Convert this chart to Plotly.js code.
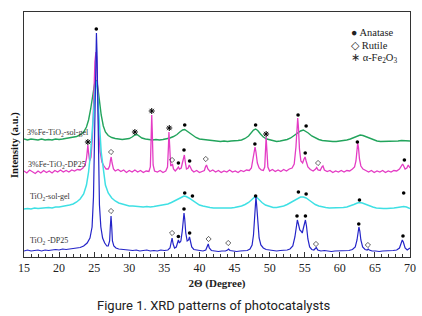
<!DOCTYPE html>
<html><head><meta charset="utf-8">
<script src="https://cdn.plot.ly/plotly-3.0.1.min.js"></script>
<style>html,body{margin:0;padding:0;background:#fff}#chart{width:422px;height:316px}</style>
</head><body><div id="chart"></div>
<script>
// ---- TiO2-DP25 (blue)
const dp25X = [15,15.5,16,16.5,17,17.5,18,18.5,19,19.5,20,20.5,21,21.5,22,22.5,23,23.5,24,24.4,24.7,24.9,25.05,25.15,25.25,25.32,25.4,25.5,25.6,25.75,25.95,26.2,26.5,26.8,27.0,27.2,27.3,27.4,27.5,27.6,27.8,28.1,28.5,29,29.5,30,30.5,31,31.5,32,32.5,33,33.5,34,34.5,35,35.5,35.8,36.0,36.1,36.25,36.45,36.7,36.9,37.0,37.15,37.35,37.55,37.7,37.8,37.9,38.05,38.25,38.45,38.58,38.7,38.9,39.2,39.6,40,40.5,40.9,41.1,41.25,41.4,41.7,42.2,42.7,43.2,43.7,44.0,44.15,44.35,44.8,45.3,45.8,46.3,46.8,47.2,47.5,47.7,47.85,47.95,48.05,48.15,48.3,48.5,48.75,49.1,49.5,50,50.5,51,51.5,52,52.5,52.9,53.3,53.6,53.8,53.95,54.1,54.3,54.45,54.65,54.85,55.0,55.1,55.25,55.45,55.7,56.0,56.3,56.55,56.65,56.85,57.3,57.8,58.3,58.8,59.3,59.8,60.3,60.8,61.3,61.8,62.2,62.45,62.6,62.72,62.85,63.0,63.25,63.6,63.9,64.05,64.2,64.6,65.1,65.6,66.1,66.6,67.1,67.6,68.1,68.5,68.75,68.9,69.05,69.3,69.6,69.85,70];
const dp25Y = [6,7,6,6.5,7,6,7,6.5,7,7.5,7,8,7.5,8,8,9,9.5,11,14,19,30,60,120,185,222,224,205,150,95,52,30,19,14,11,11,16,30,41,30,16,11,9,8,7.5,7,7,6.5,7,6,6.5,7,6,6.5,6,7,6.5,7,9,15,19,13,9,10,15,17,14,16,26,40,44,38,24,16,17,20,15,10,7.5,7,6.5,6,7,10,13,9,6.5,6,5.5,6,6,7,8,6.5,6,5.5,6,6,6.5,8,12,22,42,58,60,52,34,19,12,9,7.5,7,6.5,6,6.5,6.5,7,8,11,20,33,37,33,27,26,24,30,36,37,31,18,10,7.5,7,9,9.5,7,6,6.5,6,5.5,6,6,6.5,6,6.5,7.5,10,17,26,30,26,17,10,7.5,7,8,7,6,6,5.5,6,6,6,6.5,7,9,14,17,15,9,7,8.5,9];

// ---- TiO2-sol-gel (cyan)
const solX = [15,15.5,16,16.5,17,17.5,18,18.5,19,19.5,20,20.5,21,21.5,22,22.5,23,23.5,23.9,24.2,24.5,24.75,24.95,25.1,25.25,25.4,25.55,25.75,26.0,26.3,26.6,27,27.5,28,28.5,29,29.5,30,30.5,31,31.5,32,32.5,33,33.5,34,34.5,35,35.5,36,36.5,37,37.4,37.8,38.1,38.5,38.9,39.4,40,40.5,41,41.5,42,42.5,43,43.5,44,44.5,45,45.5,46,46.5,47,47.4,47.7,47.95,48.2,48.5,48.9,49.4,50,50.5,51,51.5,52,52.5,53,53.5,54,54.4,54.8,55.2,55.6,56,56.5,57,57.5,58,58.5,59,59.5,60,60.5,61,61.5,62,62.5,62.8,63.2,63.7,64.2,64.7,65.2,65.7,66.2,66.7,67.2,67.7,68.2,68.7,69.1,69.5,70];
const solY = [48,48.5,48,49,48.5,49,49,49.5,49,50,50,50.5,51,52,53,55,58,63,72,85,105,130,155,170,176,172,158,133,105,85,72,64,59,56,54,53,52,51,51,50.5,50,50,50.5,50,50.5,51,51.5,52,53,54.5,56,58,59.5,61,60.5,59,57,54.5,52,51,50,49.5,49,49,48.5,49,49,49,49.5,50,51,52.5,54.5,57,59,60.5,59.5,57,54.5,52,50.5,49.5,49.5,50,51,52.5,54.5,56.5,58.5,60,60,59,57,55,52.5,51,50,49.5,49,49,49,49,49.5,50,51,52.5,54,54.5,54,52.5,51,50,49,48.5,48.5,48.5,48.5,49,49.5,50,50.5,50,48.5];

// ---- 3%Fe-TiO2-DP25 (magenta)
const feDpX = [15,15.4,15.8,16.2,16.6,17,17.4,17.8,18.2,18.6,19,19.4,19.8,20.2,20.6,21,21.4,21.8,22.2,22.6,23,23.4,23.7,23.9,24.0,24.1,24.2,24.35,24.55,24.75,24.95,25.1,25.25,25.35,25.5,25.65,25.85,26.1,26.4,26.7,27.0,27.2,27.32,27.42,27.55,27.75,28.0,28.4,28.8,29.2,29.6,30,30.4,30.8,31.2,31.6,32,32.4,32.8,33.0,33.12,33.2,33.28,33.4,33.6,34,34.4,34.8,35.2,35.45,35.58,35.65,35.75,35.9,36.05,36.15,36.3,36.55,36.8,37.0,37.15,37.4,37.6,37.75,37.85,37.98,38.15,38.4,38.55,38.7,38.9,39.2,39.6,40,40.4,40.7,40.85,41.0,41.2,41.5,41.9,42.3,42.7,43.1,43.5,43.9,44.3,44.7,45.1,45.5,45.9,46.3,46.7,47.1,47.4,47.6,47.8,47.92,48.05,48.25,48.5,48.8,49.1,49.3,49.42,49.5,49.58,49.75,50,50.4,50.8,51.2,51.6,52,52.4,52.8,53.2,53.5,53.75,53.9,54.0,54.1,54.25,54.45,54.7,54.9,55.05,55.2,55.45,55.8,56.2,56.55,56.7,56.9,57.2,57.45,57.6,57.8,58.2,58.6,59,59.4,59.8,60.2,60.6,61,61.4,61.8,62.1,62.3,62.45,62.55,62.65,62.8,63.0,63.3,63.7,64.1,64.5,64.9,65.3,65.7,66.1,66.5,66.9,67.3,67.7,68.1,68.5,68.8,68.95,69.1,69.3,69.55,69.75,70];
const feDpY = [86,84,87,85,83.5,86,84,86.5,84.5,86,84,86.5,85,87,85,86.5,85,87,86,87.5,87,89,92,98,108,112,104,96,100,120,160,195,205,200,165,128,105,95,91,88,88,91,97,100,94,88,86,87.5,85.5,87,84.5,86.5,85,87,85,86.5,84.5,86,85.5,90,120,142,125,92,86,85,86.5,84.5,86,90,110,125,112,91,92,93,88,86,88,90,88,89,95,101,102,95,88,89,92,90,87,85,86.5,84.5,86,86.5,90,92,88,85.5,87,85,86.5,84.5,86,85,87,85,86,84.5,86.5,85.5,87,86.5,89,96,106,110,105,94,89,87,86.5,90,108,120,110,90,86,87.5,85.5,87,85.5,87.5,86,88,89,93,110,132,139,130,108,96,94,98,100,96,90,87.5,86,88,89.5,87,86.5,90,91,87,85.5,86.5,84.5,86,85,86.5,85,86.5,86,88,90,96,108,114,110,98,91,88,86.5,85,86.5,84.5,86,85,86.5,84.5,86,85,86.5,86,88,91,93,91,88,89,92,89];

// ---- 3%Fe-TiO2-sol-gel (green)
const feSolX = [15,15.5,16,16.5,17,17.5,18,18.5,19,19.5,20,20.5,21,21.5,22,22.5,23,23.5,23.9,24.2,24.5,24.75,24.95,25.1,25.25,25.4,25.55,25.75,26.0,26.3,26.6,27,27.5,28,28.5,29,29.5,30,30.4,30.8,31.1,31.4,31.8,32.3,32.8,33.3,33.8,34.3,34.8,35.3,35.8,36.3,36.8,37.2,37.6,37.9,38.2,38.6,39,39.5,40,40.5,41,41.5,42,42.5,43,43.5,44,44.5,45,45.5,46,46.5,47,47.4,47.7,48,48.3,48.7,49.1,49.6,50.1,50.6,51,51.5,52,52.5,53,53.5,54,54.4,54.8,55.1,55.5,56,56.5,57,57.5,58,58.5,59,59.5,60,60.5,61,61.5,62,62.5,62.9,63.3,63.8,64.3,64.8,65.3,65.8,66.3,66.8,67.3,67.8,68.3,68.8,69.3,69.8,70];
const feSolY = [118,117,118,117.5,117,118,117,117.5,117,118,117.5,118,118.5,119,119.5,120.5,122,125,130,137,148,160,170,175,177,175,168,156,142,131,125,121.5,119.5,118.5,118,117.5,118,118.5,120,122,122.5,121,119,118,117.5,117,117.5,117,117.5,118,119,120.5,122.5,125,127,127.5,126,124,121.5,119.5,118,117.5,117,116.5,116,116,115.5,116,115.5,116,116,116.5,117,118.5,121,124.5,127,128,126.5,123,120,118,117,116,115.5,116,116.5,117.5,119,121.5,124.5,126,127,126,124,121,119,117.5,116.5,116,115.5,115.5,115.5,116,116,117,118,119.5,121,122,121.5,120,118.5,117,116,115.5,115.5,115.5,115.5,116,116,116.5,116,116,116];

// ---- phase markers
const anataseX = [25.3,37.0,37.8,38.6,53.9,55.1,62.7,69.0, 37.9,39.0,48.0,54.1,55.2,62.8,69.1, 37.0,37.8,38.6,47.9,54.05,55.07,62.5,69.2, 37.9,48.0,55.2];
const anataseY = [228,20.5,48,24,41,41,33,21, 64,61,61,65,63,57,64, 94,107,96,113,142,104,115,97, 132,132,131];
const rutileX = [27.4,36.1,41.3,44.1,56.6,64.0, 27.4,36.1,40.9,56.9];
const rutileY = [46,24,18,14,13,12, 105,97,98,94];
const hematiteX = [24.1,33.2,35.7,49.5, 30.8];
const hematiteY = [115,146,129,123, 125];

const serif = 'Liberation Serif, Times New Roman, serif';
const line = (x, y, name, color, w) => ({x, y, name, type:'scatter', mode:'lines', line:{color, width:w}, hoverinfo:'skip'});
const traces = [
  line(feSolX, feSolY, '3%Fe-TiO2-sol-gel', '#22a45c', 1.4),
  line(feDpX, feDpY, '3%Fe-TiO2-DP25', '#e43cc4', 1.3),
  line(solX, solY, 'TiO2-sol-gel', '#3fe0e4', 1.5),
  line(dp25X, dp25Y, 'TiO2-DP25', '#2424c8', 1.2),
  {x:anataseX, y:anataseY, name:'Anatase', type:'scatter', mode:'markers', marker:{symbol:'circle', size:3.6, color:'#000'}},
  {x:rutileX, y:rutileY, name:'Rutile', type:'scatter', mode:'markers', marker:{symbol:'diamond-open', size:4, color:'#222', line:{width:0.7, color:'#222'}}},
  {x:hematiteX, y:hematiteY, name:'α-Fe2O3', type:'scatter', mode:'markers', marker:{symbol:'asterisk-open', size:5, color:'#000', line:{width:1, color:'#000'}}}
];

const lab = (text, x, y, size) => ({text, x, y, xref:'x', yref:'y', xanchor:'left', yanchor:'middle', showarrow:false, font:{family:serif, size, color:'#333'}});
const layout = {
  width:422, height:316,
  margin:{l:24, r:12, t:12, b:59},
  paper_bgcolor:'#fff', plot_bgcolor:'#fff',
  showlegend:false,
  xaxis:{range:[15,70], tickmode:'linear', tick0:15, dtick:5, ticks:'inside', ticklen:5, tickwidth:1, tickcolor:'#333',
    minor:{dtick:1, ticks:'inside', ticklen:3, tickcolor:'#333'},
    showline:true, mirror:true, linecolor:'#333', linewidth:1, showgrid:false, zeroline:false,
    tickfont:{family:serif, size:12, color:'#222'},
    title:{text:'<b>2Θ (Degree)</b>', font:{family:serif, size:11, color:'#222'}, standoff:4}},
  yaxis:{range:[0,245], showticklabels:false, ticks:'', showline:true, mirror:true, linecolor:'#333', linewidth:1, showgrid:false, zeroline:false},
  annotations:[
    lab('3%Fe-TiO<sub>2</sub>-sol-gel', 15.1, 124, 8),
    lab('3%Fe-TiO<sub>2</sub>-DP25', 15.3, 92, 8),
    lab('TiO<sub>2</sub>-sol-gel', 15.6, 60, 8),
    lab('TiO<sub>2</sub> -DP25', 15.6, 16.5, 8),
    {text:'● Anatase', x:(349-24)/386, y:(257-32.7)/245, xref:'paper', yref:'paper', xanchor:'left', yanchor:'middle', showarrow:false, font:{family:serif, size:10.5, color:'#222'}},
    {text:'◇ Rutile', x:(349-24)/386, y:(257-45.5)/245, xref:'paper', yref:'paper', xanchor:'left', yanchor:'middle', showarrow:false, font:{family:serif, size:10.5, color:'#222'}},
    {text:'∗ α-Fe<sub>2</sub>O<sub>3</sub>', x:(349-24)/386, y:(257-59)/245, xref:'paper', yref:'paper', xanchor:'left', yanchor:'middle', showarrow:false, font:{family:serif, size:10.5, color:'#222'}},
    {text:'<b>Intensity (a.u.)</b>', textangle:-90, x:(15-24)/386, y:(257-145)/245, xref:'paper', yref:'paper', xanchor:'center', yanchor:'middle', showarrow:false, font:{family:serif, size:10.5, color:'#111'}},
    {text:'Figure 1. XRD patterns of photocatalysts', x:(213-24)/386, y:(257-305)/245, xref:'paper', yref:'paper', xanchor:'center', yanchor:'middle', showarrow:false, font:{family:'Roboto, sans-serif', size:13, color:'#222'}}
  ]
};
Plotly.newPlot('chart', traces, layout, {staticPlot:true, displayModeBar:false});
</script></body></html>
